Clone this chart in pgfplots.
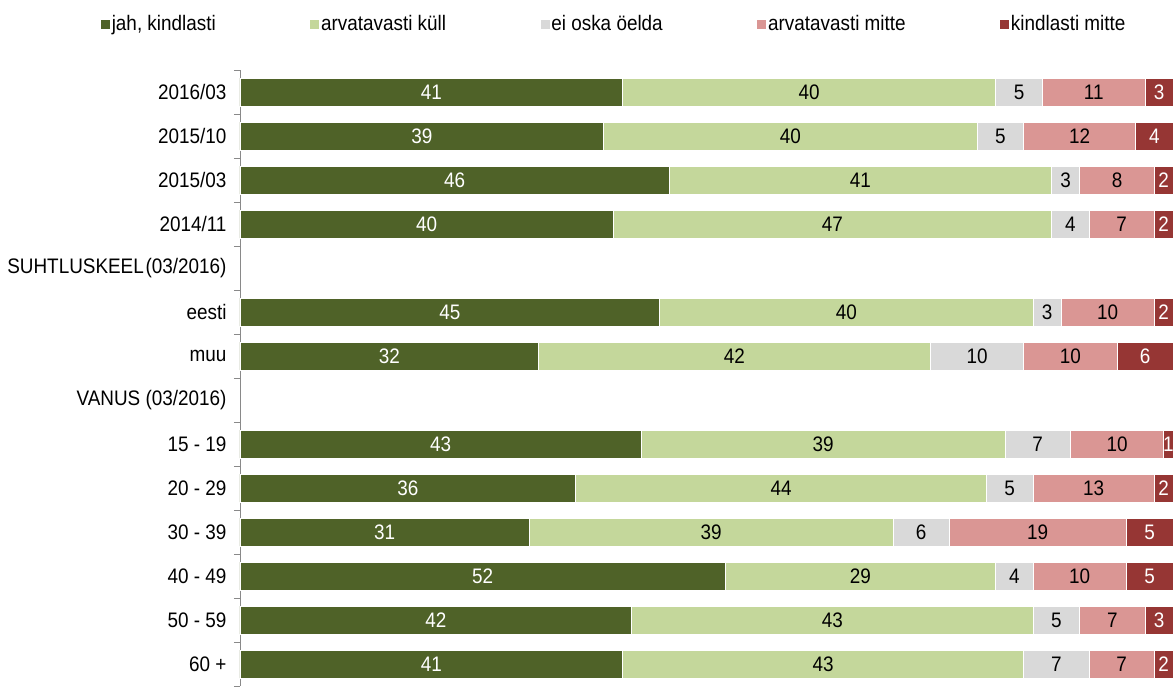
\documentclass[border=0pt]{standalone}
\usepackage{fontspec}
\setmainfont{Liberation Sans}[FakeStretch=0.9]
\usepackage{pgfplots}
\usepackage{pgfplotstable}
\pgfplotsset{compat=1.18}
\definecolor{cA}{HTML}{4F6228}
\definecolor{cB}{HTML}{C4D79B}
\definecolor{cC}{HTML}{D9D9D9}
\definecolor{cD}{HTML}{DA9694}
\definecolor{cE}{HTML}{963634}
\definecolor{axgray}{HTML}{898989}
\pgfplotstableread{
y a b c d e
0 41 40 5 11 3
1 39 40 5 12 4
2 46 41 3 8 2
3 40 47 4 7 2
5 45 40 3 10 2
6 32 42 10 10 6
8 43 39 7 10 1
9 36 44 5 13 2
10 31 39 6 19 5
11 52 29 4 10 5
12 42 43 5 7 3
13 41 43 7 7 2
}\data
% centres of the segments, from the values above
\pgfplotstablecreatecol[create col/expr={\thisrow{a}/2}]{ma}\data
\pgfplotstablecreatecol[create col/expr={\thisrow{a}+\thisrow{b}/2}]{mb}\data
\pgfplotstablecreatecol[create col/expr={\thisrow{a}+\thisrow{b}+\thisrow{c}/2}]{mc}\data
\pgfplotstablecreatecol[create col/expr={\thisrow{a}+\thisrow{b}+\thisrow{c}+\thisrow{d}/2}]{md}\data
\pgfplotstablecreatecol[create col/expr={\thisrow{a}+\thisrow{b}+\thisrow{c}+\thisrow{d}+\thisrow{e}/2}]{me}\data
\pgfplotsset{
  base/.style={scale only axis, width=933pt, height=616pt,
    xmin=0, xmax=100, ymin=-0.5, ymax=13.5, y dir=reverse},
  lab/.style={only marks, mark=none, nodes near coords, point meta=explicit symbolic,
    nodes near coords align=center,
    every node near coord/.append style={anchor=center, text=#1, inner sep=0pt}}
}
\begin{document}
\begin{tikzpicture}[font=\fontsize{21}{25}\selectfont]
\begin{axis}[base,
  xbar stacked, bar width=28pt,
  hide x axis, axis y line*=left,
  y axis line style={axgray, line width=0.8pt},
  ytick={0,...,13},
  yticklabels={2016/03, 2015/10, 2015/03, 2014/11, SUHTLUSKEEL\hspace{0.08em}(03/2016), eesti, muu, VANUS (03/2016), 15 - 19, 20 - 29, 30 - 39, 40 - 49, 50 - 59, 60 +},
  minor ytick={-0.5,0.5,...,13.5},
  major tick length=0pt, minor tick length=6pt, tick align=outside,
  minor tick style={axgray, line width=0.8pt},
  yticklabel style={anchor=east, xshift=-10pt},
  legend columns=5,
  legend style={draw=none, fill=none, inner sep=0pt, outer sep=0pt,
    at={(rel axis cs:0,1)}, anchor=west, xshift=-140pt, yshift=46pt,
    nodes={inner sep=1pt, anchor=west},
    /tikz/every even column/.append style={column sep=92.5pt}},
  legend image code/.code={\fill[#1] (0pt,-5pt) rectangle (10pt,5pt);},
]
\addplot[fill=cA, draw=white, line width=0.8pt] table[x=a,y=y]{\data};
\addplot[fill=cB, draw=white, line width=0.8pt] table[x=b,y=y]{\data};
\addplot[fill=cC, draw=white, line width=0.8pt] table[x=c,y=y]{\data};
\addplot[fill=cD, draw=white, line width=0.8pt] table[x=d,y=y]{\data};
\addplot[fill=cE, draw=white, line width=0.8pt] table[x=e,y=y]{\data};
\legend{jah{,} kindlasti, arvatavasti küll, ei oska öelda, arvatavasti mitte, kindlasti mitte}
\coordinate (bl) at (rel axis cs:0,0);
\coordinate (tr) at (rel axis cs:1,1);
\end{axis}
\begin{axis}[base, hide axis, clip=false]
\addplot[lab=white] table[x=ma,y=y,meta=a]{\data};
\addplot[lab=black] table[x=mb,y=y,meta=b]{\data};
\addplot[lab=black] table[x=mc,y=y,meta=c]{\data};
\addplot[lab=black] table[x=md,y=y,meta=d]{\data};
\addplot[lab=white] table[x=me,y=y,meta=e]{\data};
\end{axis}
\pgfresetboundingbox
\path ([xshift=-240pt]bl) rectangle ([yshift=70pt]tr);
\end{tikzpicture}
\end{document}
